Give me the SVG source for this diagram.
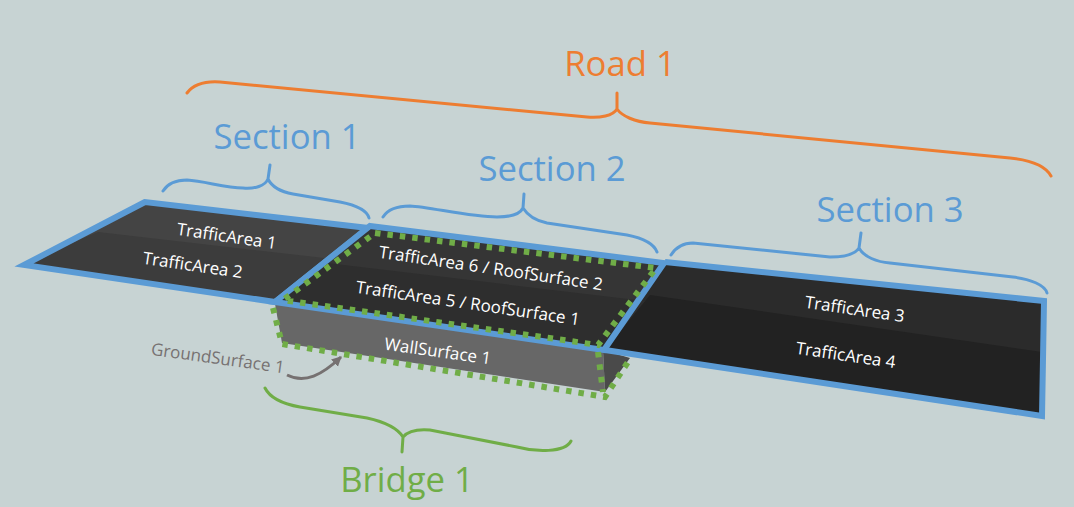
<svg xmlns="http://www.w3.org/2000/svg" width="1074" height="507" viewBox="0 0 1074 507">
<defs>
<style>
.edge{fill:none;stroke:#5b9bd5;stroke-width:6;stroke-linejoin:miter}
.dot{fill:none;stroke:#70ad47;stroke-width:6;stroke-dasharray:5.5 7}
.brace{fill:none;stroke-width:3;stroke-linecap:round}
.lbl{font-family:"Open Sans","Noto Sans",sans-serif;font-size:17px;fill:#fff;text-anchor:middle}
.big{font-family:"Open Sans","Noto Sans",sans-serif;font-size:34.7px;text-anchor:middle}
</style>
<marker id="arr" markerUnits="userSpaceOnUse" markerWidth="12" markerHeight="12" refX="9" refY="5" orient="auto"><path d="M0 0L10 5L0 10Z" fill="#767171"/></marker>
</defs>
<rect width="1074" height="507" fill="#c7d3d3"/>
<g id="bridge-wall">
<polygon points="275,304 603,350 605,392 282,343" fill="#676767"/>
<polygon points="603,350 630,358 605,392" fill="#4a4a4a"/>
<text class="lbl" transform="translate(437,357) rotate(8)">WallSurface 1</text>
</g>
<g id="section-1">
<polygon points="145,202 20,265 275,302 370,227" fill="#444"/>
<polygon points="98,232 20,265 275,302 333,259" fill="#3c3c3c"/>
<text class="lbl" transform="translate(226,242) rotate(8.3)">TrafficArea 1</text>
<text class="lbl" transform="translate(192,271) rotate(8.3)">TrafficArea 2</text>
<polygon class="edge" points="145,202 24,265 275,302 368,228"/>
</g>
<g id="section-3">
<polygon points="665,263 1044,302 1042,416 605,350" fill="#2b2b2b"/>
<polygon points="650,295 1042,352 1042,416 605,350" fill="#222"/>
<text class="lbl" transform="translate(854,315) rotate(8.3)">TrafficArea 3</text>
<text class="lbl" transform="translate(845,361) rotate(8.3)">TrafficArea 4</text>
<polyline class="edge" points="665,262 1044,301 1042,416 605,350"/>
</g>
<g id="section-2">
<polygon points="370,227 664,264 604,350 275,302" fill="#353535"/>
<polygon points="327,263 645,301 604,350 275,302" fill="#2e2e2e"/>
<text class="lbl" transform="translate(490,274) rotate(8.3)">TrafficArea 6 / RoofSurface 2</text>
<text class="lbl" transform="translate(467,309) rotate(8.3)">TrafficArea 5 / RoofSurface 1</text>
<polygon class="edge" points="370,226 664,263 604,350 275,302"/>
<polygon class="dot" points="375,233 656,268 598,345 283,300"/>
</g>
<g id="bridge-outline">
<polyline class="dot" points="273,308 282,344 605,397 628,362"/>
<line class="dot" x1="598" y1="352" x2="603" y2="392"/>
</g>
<g id="connectors">
<path d="M287,375C305,384 322,375 341,357" fill="none" stroke="#767171" stroke-width="3" marker-end="url(#arr)"/>
<path class="brace" stroke="#ed7d31" d="M187,93C193,85 205,81 220,82L587,117C600,118 613,116 617,109L617,93M617,109C622,116 635,122 650,123L1010,158C1030,160 1045,165 1051,176"/>
<path class="brace" stroke="#5b9bd5" d="M163,191C168,183 177,180 187,180C205,181 225,188 243,188C255,189 265,186 268,179L270,165M268,179C272,187 282,192 293,194L340,202C355,205 367,210 369,218"/>
<path class="brace" stroke="#5b9bd5" d="M383,217C388,209 398,206 410,206C430,207 470,217 497,217C510,217 520,214 523,208L524,194M523,208C528,216 537,221 547,223L627,235C642,238 654,244 657,252"/>
<path class="brace" stroke="#5b9bd5" d="M671,255C676,247 684,243 693,243L830,257C845,257 855,254 859,248L861,233M859,248C864,257 877,262 890,263L1013,277C1030,279 1045,285 1047,293"/>
<path class="brace" stroke="#70ad47" d="M265,388C270,398 283,404 300,407L367,418C385,422 398,429 403,437L402,452M403,437C408,431 418,429 430,430L517,447C535,452 565,453 571,441"/>
</g>
<g id="labels">
<text class="big" x="620" y="76" fill="#ed7d31">Road 1</text>
<text class="big" x="287" y="149" fill="#5b9bd5">Section 1</text>
<text class="big" x="552" y="181" fill="#5b9bd5">Section 2</text>
<text class="big" x="890" y="222" fill="#5b9bd5">Section 3</text>
<text class="big" x="407" y="492" fill="#70ad47">Bridge 1</text>
<text class="lbl" transform="translate(217,364) rotate(7.9)" style="fill:#767171">GroundSurface 1</text>
</g>
</svg>
